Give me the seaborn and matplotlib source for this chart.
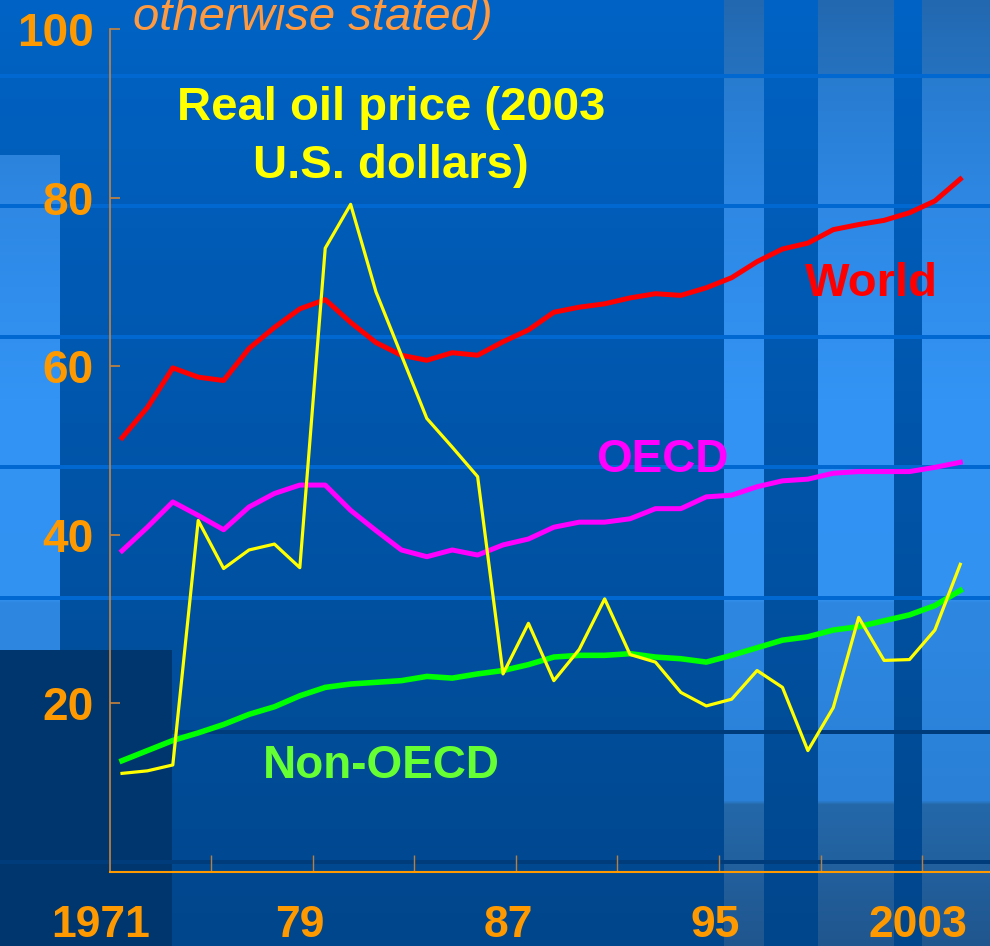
import numpy as np
import pandas as pd
import matplotlib
matplotlib.use("Agg")
import matplotlib.pyplot as plt
import seaborn as sns

# series (index, 1971-2004)
years = list(range(1971, 2005))
world = [51.5, 55.1, 59.8, 58.7, 58.3, 62.1, 64.6, 66.8, 67.9, 65.2,
         62.8, 61.3, 60.7, 61.6, 61.3, 62.9, 64.3, 66.4, 67.0, 67.4,
         68.1, 68.6, 68.4, 69.3, 70.5, 72.4, 73.9, 74.6, 76.2, 76.8,
         77.3, 78.2, 79.6, 82.2]
oecd = [38.1, 40.9, 43.9, 42.3, 40.6, 43.3, 44.9, 45.9, 45.9, 42.9,
        40.5, 38.2, 37.4, 38.2, 37.6, 38.8, 39.5, 40.9, 41.5, 41.5,
        41.9, 43.1, 43.1, 44.5, 44.7, 45.7, 46.4, 46.6, 47.3, 47.5,
        47.5, 47.5, 48.0, 48.6]
non_oecd = [13.2, 14.4, 15.6, 16.5, 17.5, 18.7, 19.6, 20.9, 21.9, 22.3,
            22.5, 22.7, 23.2, 23.0, 23.5, 23.9, 24.6, 25.5, 25.7, 25.7,
            25.9, 25.5, 25.3, 24.9, 25.7, 26.6, 27.5, 27.9, 28.7, 29.1,
            29.8, 30.5, 31.6, 33.4]
oil_price = [11.7, 12.0, 12.7, 41.7, 36.0, 38.2, 38.9, 36.1, 74.0, 79.2,
             68.8, 61.3, 53.8, 50.4, 46.9, 23.5, 29.5, 22.7, 26.4, 32.4,
             25.8, 24.9, 21.3, 19.7, 20.5, 23.9, 21.9, 14.4, 19.5, 30.2,
             25.1, 25.2, 28.7, 36.5]

y_ticks = [20, 40, 60, 80, 100]
x_label_pos = [1970.17, 1978.0, 1986.2, 1994.35, 2002.35]
x_labels = ["1971", "79", "87", "95", "2003"]
x_tick_marks = [1974.5, 1978.5, 1982.5, 1986.5, 1990.5, 1994.5, 1998.5, 2002.5]

df = pd.DataFrame({"year": years, "World": world, "OECD": oecd,
                   "Non-OECD": non_oecd, "Oil": oil_price})

plt.rcParams['font.family'] = ['Liberation Sans', 'DejaVu Sans']

W, H = 990, 946
fig = plt.figure(figsize=(W / 100, H / 100), dpi=100)

# ---- slide background (decoration) ----
rows = np.arange(H)
base_top = np.array([0, 99, 197]) / 255
base_bot = np.array([0, 70, 140]) / 255
t = (rows / (H - 1))[:, None]
img = np.ones((H, W, 3)) * (base_top * (1 - t) + base_bot * t)[:, None, :]

key_y = [0, 76, 80, 207, 400, 598, 602, 800, 804, 946]
key_c = np.array([[34, 104, 176], [38, 114, 192], [40, 124, 208], [46, 136, 228],
                  [51, 148, 245], [50, 146, 242], [46, 136, 226], [42, 128, 214],
                  [36, 104, 170], [32, 86, 142]]) / 255
band = np.stack([np.interp(rows, key_y, key_c[:, i]) for i in range(3)], axis=1)
for x0, x1 in [(724, 764), (818, 894), (922, 990)]:
    img[:, x0:x1, :] = band[:, None, :]
img[156:650, 0:60, :] = band[156:650, None, :]

for yc in [77, 207, 338, 468, 598]:
    img[yc - 2:yc + 2, :, :] = np.array([0, 104, 208]) / 255
img[730:734, :, :] = np.array([0, 60, 124]) / 255
img[650:946, 0:172, :] = np.array([0, 54, 110]) / 255
img[860:864, :, :] = np.array([0, 60, 124]) / 255

bg = fig.add_axes([0, 0, 1, 1], zorder=0)
bg.imshow(img, extent=[0, W, H, 0], aspect='auto', interpolation='nearest')
bg.set_axis_off()

# ---- chart ----
# axes starts a bit left of the y axis line so the "1971" label fits inside
x_left, x_right = 1969.74, 2005.17
y_axis_at = 1970.53
ax = fig.add_axes([90 / W, 74 / H, 900 / W, 843 / H], zorder=1)
ax.patch.set_alpha(0)

sns.lineplot(data=df, x="year", y="World", color="#FF0000", linewidth=3.6, ax=ax)
sns.lineplot(data=df, x="year", y="OECD", color="#FF00FF", linewidth=3.6, ax=ax)
sns.lineplot(data=df, x="year", y="Non-OECD", color="#00FF00", linewidth=4.0, ax=ax)
sns.lineplot(data=df, x="year", y="Oil", color="#FFFF00", linewidth=2.3, ax=ax)

ax.set_xlabel("")
ax.set_ylabel("")

for s in ["top", "right"]:
    ax.spines[s].set_visible(False)
ax.spines["left"].set_position(("data", y_axis_at))
ax.spines["left"].set_color("#C8843C")
ax.spines["left"].set_linewidth(1.2)
ax.spines["bottom"].set_color("#FF9900")
ax.spines["bottom"].set_linewidth(1.5)
ax.spines["bottom"].set_bounds(y_axis_at, x_right)

ax.set_yticks(y_ticks)
ax.set_yticklabels([str(v) for v in y_ticks])
ax.tick_params(axis="y", direction="in", length=7, width=1.2, color="#C8843C",
               pad=12, labelsize=33, labelcolor="#FF9900")
ax.set_xticks(x_label_pos)
ax.set_xticklabels(x_labels)
ax.set_xticks(x_tick_marks, minor=True)
ax.tick_params(axis="x", which="major", length=0, pad=24, labelsize=32,
               labelcolor="#FF9900")
ax.tick_params(axis="x", which="minor", direction="in", length=12, width=1,
               color="#B88040")
for lab in ax.get_xticklabels() + ax.get_yticklabels():
    lab.set_fontweight("bold")

ax.set_xlim(x_left, x_right)
ax.set_ylim(0, 100)

# series labels
ax.text(2000.5, 69.7, "World", color="#FF0000", fontsize=34, fontweight="bold",
        ha="center", va="center")
ax.text(1992.26, 48.9, "OECD", color="#FF00FF", fontsize=33, fontweight="bold",
        ha="center", va="center")
ax.text(1981.2, 12.6, "Non-OECD", color="#66FF33", fontsize=33, fontweight="bold",
        ha="center", va="center")
ax.text(1981.6, 90.6, "Real oil price (2003", color="#FFFF00", fontsize=34,
        fontweight="bold", ha="center", va="center")
ax.text(1981.6, 83.8, "U.S. dollars)", color="#FFFF00", fontsize=34,
        fontweight="bold", ha="center", va="center")

fig.text(133 / W, 1 - 30 / H, "otherwise stated)", color="#FF9A40", fontsize=34,
         fontstyle="italic", ha="left", va="baseline")

fig.savefig("out.png", dpi=100)
